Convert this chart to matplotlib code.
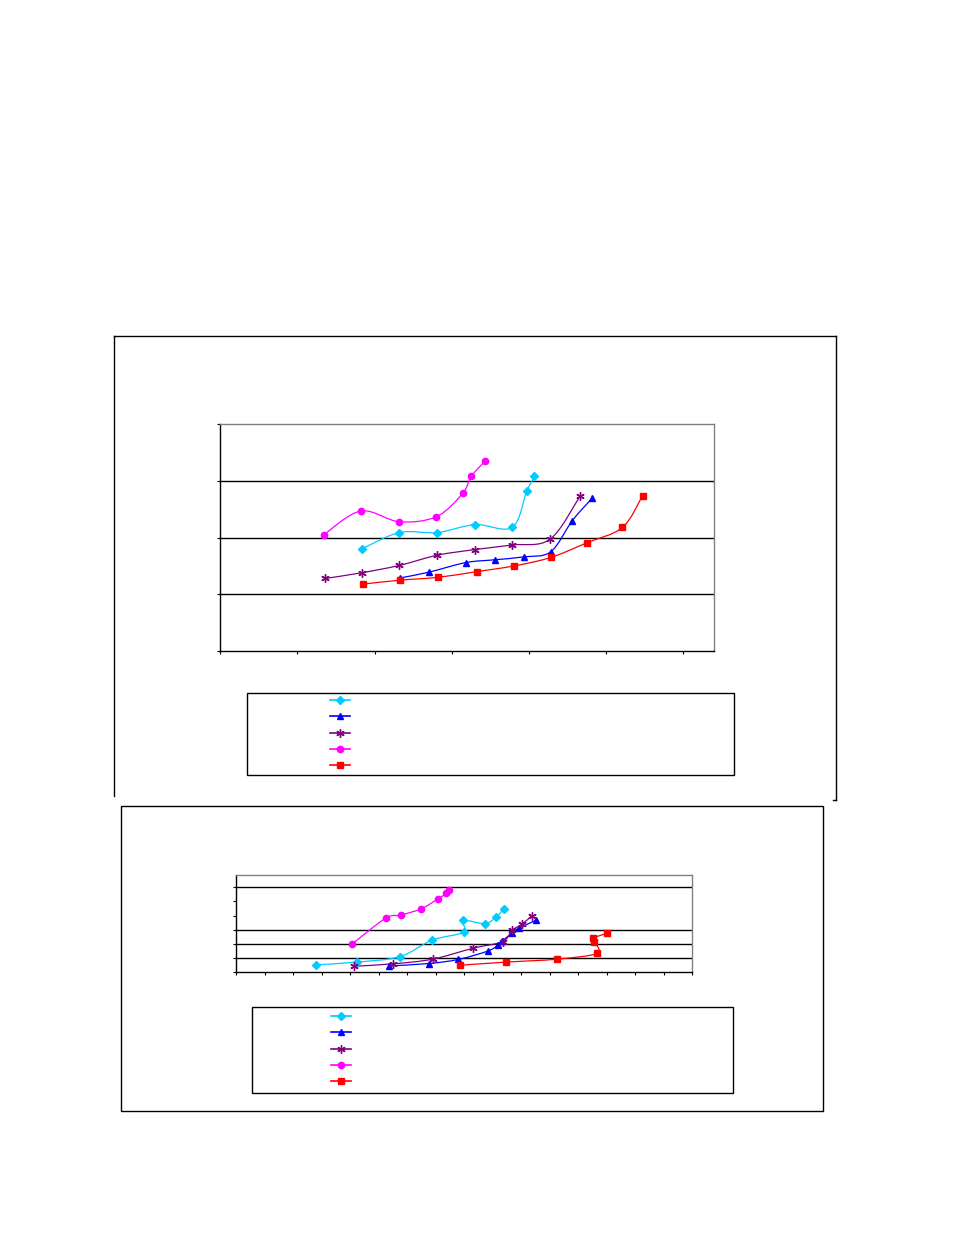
import numpy as np
import matplotlib.pyplot as plt
from matplotlib.path import Path
from matplotlib.patches import PathPatch, Rectangle
from matplotlib.lines import Line2D

# ---------------- data ----------------
# top chart
TOP_CYAN_X = [1.83, 2.32, 2.81, 3.30, 3.78, 3.97, 4.07]
TOP_CYAN_Y = [1.80, 2.09, 2.09, 2.23, 2.18, 2.82, 3.08]
TOP_BLUE_X = [2.33, 2.70, 3.18, 3.56, 3.93, 4.28, 4.56, 4.82]
TOP_BLUE_Y = [1.29, 1.39, 1.56, 1.61, 1.66, 1.75, 2.30, 2.70]
TOP_PURPLE_X = [1.36, 1.83, 2.32, 2.81, 3.30, 3.78, 4.27, 4.66]
TOP_PURPLE_Y = [1.28, 1.38, 1.51, 1.69, 1.79, 1.87, 1.97, 2.73]
TOP_MAGENTA_X = [1.34, 1.82, 2.32, 2.80, 3.14, 3.25, 3.43]
TOP_MAGENTA_Y = [2.05, 2.47, 2.28, 2.37, 2.78, 3.08, 3.35]
TOP_RED_X = [1.85, 2.33, 2.82, 3.32, 3.80, 4.28, 4.75, 5.21, 5.47]
TOP_RED_Y = [1.18, 1.25, 1.30, 1.40, 1.50, 1.65, 1.91, 2.18, 2.74]

# bottom chart
BOT_CYAN_X = [2.82, 4.23, 5.74, 6.87, 7.99, 7.95, 8.73, 9.13, 9.39]
BOT_CYAN_Y = [0.53, 0.72, 1.10, 2.27, 2.84, 3.66, 3.44, 3.92, 4.49]
BOT_BLUE_X = [5.36, 6.76, 7.80, 8.83, 9.18, 9.33, 9.67, 9.94, 10.51]
BOT_BLUE_Y = [0.45, 0.62, 0.91, 1.50, 1.91, 2.20, 2.75, 3.13, 3.66]
BOT_PURPLE_X = [4.13, 5.52, 6.90, 8.31, 9.35, 9.68, 10.02, 10.38]
BOT_PURPLE_Y = [0.43, 0.60, 0.93, 1.70, 2.17, 2.96, 3.39, 3.99]
BOT_MAGENTA_X = [4.08, 5.25, 5.78, 6.50, 7.08, 7.37, 7.48]
BOT_MAGENTA_Y = [2.01, 3.82, 4.04, 4.49, 5.18, 5.57, 5.83]
BOT_RED_X = [7.86, 9.48, 11.27, 12.66, 12.56, 12.52, 13.00]
BOT_RED_Y = [0.50, 0.72, 0.93, 1.34, 2.17, 2.41, 2.75]

COLORS = ["#00CCFF", "#0000FF", "#800080", "#FF00FF", "#FF0000"]
MARKERS = ["D", "^", (6, 2, 0), "o", "s"]
MSIZES = [4, 5, 6, 4.5, 4]

W, H = 954, 1235


def fx(px):
    return px / W


def fy(py):
    return 1 - py / H


def smooth_path(xs, ys):
    # excel style smoothed line: bezier segments through the points
    pts = np.column_stack([xs, ys])
    n = len(pts)
    verts = [pts[0]]
    codes = [Path.MOVETO]
    for i in range(n - 1):
        p0 = pts[max(i - 1, 0)]
        p1 = pts[i]
        p2 = pts[i + 1]
        p3 = pts[min(i + 2, n - 1)]
        c1 = p1 + (p2 - p0) / 6.0
        c2 = p2 - (p3 - p1) / 6.0
        verts += [c1, c2, p2]
        codes += [Path.CURVE4] * 3
    return Path(verts, codes)


def draw_series(ax, xs, ys, k):
    ax.add_patch(PathPatch(smooth_path(xs, ys), fill=False,
                           edgecolor=COLORS[k], lw=0.9, zorder=3))
    ax.plot(xs, ys, linestyle="none", marker=MARKERS[k], ms=MSIZES[k],
            color=COLORS[k], mec=COLORS[k], mew=1.0, zorder=4)


def style_axes(ax, xlim, ylim, grid_vals):
    ax.set_xlim(*xlim)
    ax.set_ylim(*ylim)
    ax.set_xticks(np.arange(xlim[0], int(xlim[1]) + 1, 1))
    ax.set_yticks(np.arange(ylim[0], int(ylim[1]) + 1, 1))
    ax.set_xticklabels([])
    ax.set_yticklabels([])
    ax.tick_params(direction="out", length=2.5, width=0.8, color="black")
    for s in ["top", "right"]:
        ax.spines[s].set_color("#808080")
        ax.spines[s].set_linewidth(1.0)
    for s in ["left", "bottom"]:
        ax.spines[s].set_color("black")
        ax.spines[s].set_linewidth(1.0)
    for g in grid_vals:
        ax.axhline(g, color="black", lw=1.0, zorder=1)


def legend_at(fig, cx, cy):
    handles = [Line2D([], [], color=COLORS[k], lw=1.2, marker=MARKERS[k],
                      ms=MSIZES[k], mec=COLORS[k]) for k in range(5)]
    fig.legend(handles, [" "] * 5, loc="center left",
               bbox_to_anchor=(fx(cx), fy(cy)), frameon=False, fontsize=8,
               handlelength=1.8, borderpad=0, labelspacing=0.56,
               handletextpad=0.4)


fig = plt.figure(figsize=(W / 100, H / 100), dpi=100)

# ---------------- top chart ----------------
# frame (open at the bottom)
fig.add_artist(Line2D([fx(114.3), fx(114.3)], [fy(796), fy(336)], color="black", lw=1.0))
fig.add_artist(Line2D([fx(114.3), fx(836)], [fy(336), fy(336)], color="black", lw=1.0))
fig.add_artist(Line2D([fx(836), fx(836)], [fy(336), fy(800)], color="black", lw=1.0))
fig.add_artist(Line2D([fx(833), fx(836)], [fy(800), fy(800)], color="black", lw=1.0))

ax1 = fig.add_axes([fx(220.3), fy(651), fx(714.3) - fx(220.3), (651 - 424.3) / H])
style_axes(ax1, (0, 6.4), (0, 4), [1, 2, 3])
top_x = [TOP_CYAN_X, TOP_BLUE_X, TOP_PURPLE_X, TOP_MAGENTA_X, TOP_RED_X]
top_y = [TOP_CYAN_Y, TOP_BLUE_Y, TOP_PURPLE_Y, TOP_MAGENTA_Y, TOP_RED_Y]
for k in range(5):
    draw_series(ax1, top_x[k], top_y[k], k)

fig.add_artist(Rectangle((fx(247.3), fy(775)), (734 - 247.3) / W, (775 - 693.3) / H,
                         fill=False, edgecolor="black", lw=1.0))
legend_at(fig, 324, 733.5)

# ---------------- bottom chart ----------------
fig.add_artist(Rectangle((fx(121.3), fy(1111)), (823.3 - 121.3) / W, (1111 - 806) / H,
                         fill=False, edgecolor="black", lw=1.0))

ax2 = fig.add_axes([fx(236), fy(972.3), fx(692.3) - fx(236), (972.3 - 875) / H])
style_axes(ax2, (0, 16), (0, 6.87), [1, 2, 3, 6])
bot_x = [BOT_CYAN_X, BOT_BLUE_X, BOT_PURPLE_X, BOT_MAGENTA_X, BOT_RED_X]
bot_y = [BOT_CYAN_Y, BOT_BLUE_Y, BOT_PURPLE_Y, BOT_MAGENTA_Y, BOT_RED_Y]
for k in range(5):
    draw_series(ax2, bot_x[k], bot_y[k], k)

fig.add_artist(Rectangle((fx(252.3), fy(1093.3)), (733.3 - 252.3) / W, (1093.3 - 1007.3) / H,
                         fill=False, edgecolor="black", lw=1.0))
legend_at(fig, 325, 1049.5)

fig.savefig("out.png", dpi=100)
